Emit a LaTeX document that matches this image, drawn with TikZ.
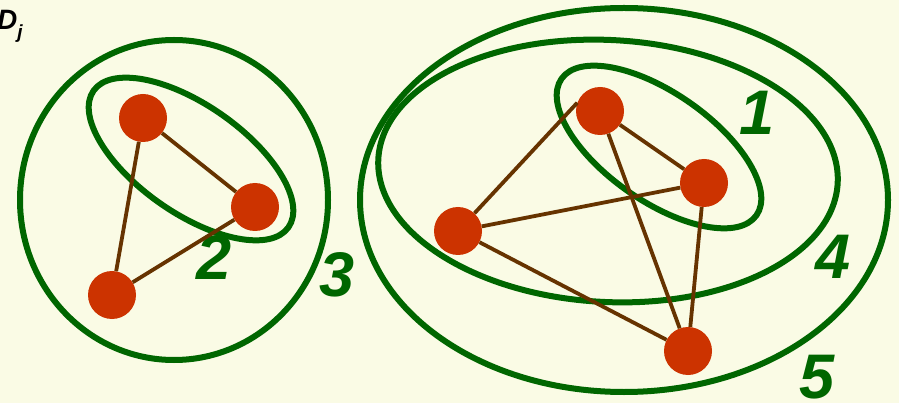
\documentclass[tikz,border=0pt]{standalone}
\usepackage{fontspec}
\setmainfont{Liberation Sans}
\usepackage{tikz}
\usetikzlibrary{shapes.geometric}

\definecolor{fundo}{RGB}{250,251,229}
\definecolor{verde}{RGB}{0,102,0}
\definecolor{vermelho}{RGB}{204,51,0}
\definecolor{marrom}{RGB}{102,51,0}

\begin{document}
\begin{tikzpicture}[
			x=1pt, y=-1pt,
			vertex/.style={circle, fill=vermelho, minimum size=48pt, inner sep=0pt},
			cluster/.style={ellipse, draw=verde, line width=6pt, inner sep=0pt},
			link/.style={draw=marrom, line width=3.8pt},
			tag/.style={text=verde, inner sep=0pt, font=\fontsize{63}{63}\selectfont\bfseries\itshape}
			]
	\fill[fundo] (0,0) rectangle (899,403);
	\useasboundingbox (0,0) rectangle (899,403);
	
	%% Titulo
	\node[anchor=base west, inner sep=0pt, font=\fontsize{28}{28}\selectfont\bfseries\itshape] (titulo) at (-3,30) {D\raisebox{-9pt}{\fontsize{19}{19}\selectfont j}};
	
	%% GRUPO 1: tres vertices
	\node[cluster, minimum width=308pt, minimum height=320pt] (c3) at (174,200) {};
	\node[cluster, minimum width=238pt, minimum height=108pt, rotate=-35] (c2) at (191,159) {};
	\node[vertex] (a) at (143,118) {};
	\node[vertex] (b) at (255,207) {};
	\node[vertex] (c) at (112,295) {};
	\node[tag] (n2) at (214,258) {2};
	\node[tag] (n3) at (337,275) {3};
	
	%% GRUPO 2: quatro vertices
	\node[cluster, minimum width=528pt, minimum height=384pt] (c5) at (624,200) {};
	\node[cluster, minimum width=460pt, minimum height=262pt, rotate=-3] (c4) at (608,171) {};
	\node[cluster, minimum width=238pt, minimum height=108pt, rotate=-35] (c1) at (659,147) {};
	\node[vertex] (d) at (600,111) {};
	\node[vertex] (f) at (704,183) {};
	\node[vertex] (e) at (458,231) {};
	\node[vertex] (g) at (688,351) {};
	\node[tag] (n1) at (757,113) {1};
	\node[tag] (n4) at (833,257) {4};
	\node[tag] (n5) at (817,377) {5};
	
	%% Arestas
	\draw[link] (a) -- (b);
	\draw[link] (a) -- (c);
	\draw[link] (b) -- (c);
	\draw[link] (e) -- (d.160);
	\draw[link] (d) -- (f);
	\draw[link] (d) -- (g);
	\draw[link] (e) -- (f);
	\draw[link] (f) -- (g);
	\draw[link] (e) -- (g);
	
\end{tikzpicture}
\end{document}
